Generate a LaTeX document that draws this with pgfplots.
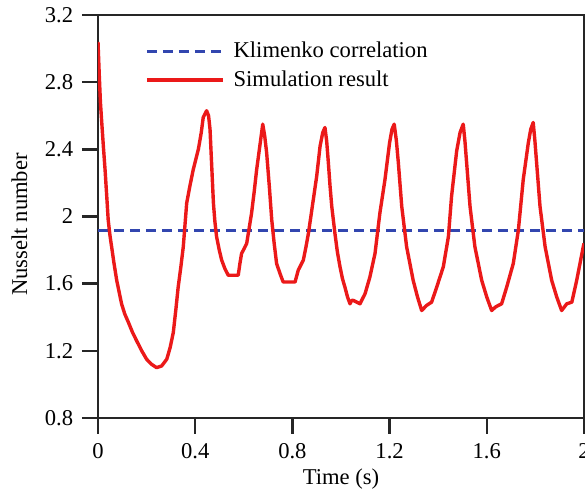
\documentclass[border=0pt]{standalone}
\usepackage{fontspec}
\setmainfont{Liberation Serif}
\usepackage{pgfplots}
\pgfplotsset{compat=1.18}
\definecolor{simred}{RGB}{235,25,25}
\definecolor{klblue}{RGB}{50,70,175}
\begin{document}
\fontsize{11.3}{13.3}\selectfont
\begin{tikzpicture}
\begin{axis}[
  scale only axis,
  width=243pt, height=201.5pt,
  xmin=0, xmax=2, ymin=0.8, ymax=3.2,
  xtick={0,0.4,0.8,1.2,1.6,2},
  ytick={0.8,1.2,1.6,2,2.4,2.8,3.2},
  xticklabels={0,0.4,0.8,1.2,1.6,2},
  yticklabels={0.8,1.2,1.6,2,2.4,2.8,3.2},
  tick align=outside,
  xtick pos=bottom, ytick pos=left,
  major tick length=8pt,
  axis line style={line width=1.2pt, black!85},
  every tick/.style={line width=1.2pt, black!85},
  yticklabel style={xshift=-0.5pt},
  xticklabel style={yshift=-1pt},
  xlabel={Time (s)},
  ylabel={Nusselt number},
  xlabel style={yshift=3pt},
  ylabel style={yshift=1pt, xshift=-4pt},
  legend cell align=left,
  legend style={draw=none, fill=none, at={(rel axis cs:0.084,0.955)}, anchor=north west,
    row sep=1pt, font=\fontsize{11.3}{13.3}\selectfont},
  legend image code/.code={\draw[#1] (0pt,0pt) -- (38pt,0pt); \path (40.5pt,0pt);},
  clip=true,
]
\coordinate (o) at (rel axis cs:0,0);
\addplot[klblue, line width=1.5pt, dash pattern=on 5pt off 3pt] coordinates {(0,1.914) (2,1.914)};
\addlegendentry{Klimenko correlation}
\addplot[simred, line width=1.7pt, line join=round] coordinates {
(0.000,3.04) (0.005,2.85) (0.010,2.68) (0.015,2.57) (0.022,2.42) (0.029,2.28)
(0.036,2.12) (0.042,1.98) (0.049,1.89) (0.056,1.82) (0.066,1.72) (0.077,1.62)
(0.087,1.55) (0.097,1.48) (0.110,1.42) (0.125,1.37) (0.142,1.31) (0.159,1.26)
(0.180,1.20) (0.200,1.15) (0.220,1.12) (0.241,1.10) (0.262,1.11) (0.283,1.15)
(0.297,1.22) (0.310,1.31) (0.320,1.44) (0.330,1.58) (0.341,1.70) (0.351,1.82)
(0.358,1.95) (0.365,2.08) (0.378,2.18) (0.392,2.28) (0.413,2.40) (0.425,2.50)
(0.433,2.59) (0.447,2.63) (0.455,2.60) (0.461,2.52) (0.468,2.30) (0.475,2.08)
(0.481,1.97) (0.488,1.88) (0.499,1.80) (0.509,1.74) (0.522,1.69) (0.536,1.65)
(0.556,1.65) (0.577,1.65) (0.584,1.72) (0.591,1.78) (0.602,1.81) (0.612,1.84)
(0.622,1.93) (0.632,2.02) (0.643,2.15) (0.653,2.28) (0.666,2.42) (0.678,2.55)
(0.686,2.48) (0.694,2.38) (0.705,2.18) (0.715,1.98) (0.725,1.84) (0.735,1.72)
(0.749,1.66) (0.762,1.61) (0.776,1.61) (0.793,1.61) (0.811,1.61) (0.824,1.68)
(0.845,1.74) (0.856,1.82) (0.866,1.90) (0.886,2.10) (0.900,2.24) (0.914,2.42)
(0.925,2.50) (0.934,2.53) (0.941,2.45) (0.948,2.32) (0.955,2.18) (0.962,2.06)
(0.975,1.90) (0.985,1.79) (0.996,1.70) (1.006,1.63) (1.016,1.58) (1.027,1.52)
(1.037,1.48) (1.044,1.50) (1.051,1.50) (1.065,1.49) (1.078,1.48) (1.099,1.54)
(1.119,1.64) (1.140,1.78) (1.150,1.90) (1.160,2.02) (1.181,2.22) (1.200,2.44)
(1.210,2.52) (1.219,2.55) (1.228,2.45) (1.236,2.32) (1.250,2.06) (1.270,1.82)
(1.297,1.62) (1.315,1.52) (1.332,1.44) (1.352,1.47) (1.373,1.49) (1.394,1.58)
(1.421,1.70) (1.442,1.88) (1.455,2.12) (1.476,2.39) (1.490,2.50) (1.503,2.55)
(1.510,2.45) (1.517,2.32) (1.531,2.06) (1.551,1.82) (1.579,1.62) (1.600,1.52)
(1.620,1.44) (1.635,1.46) (1.647,1.47) (1.661,1.48) (1.682,1.58) (1.709,1.72)
(1.730,1.92) (1.750,2.22) (1.771,2.44) (1.781,2.52) (1.791,2.56) (1.798,2.45)
(1.805,2.32) (1.819,2.06) (1.840,1.82) (1.867,1.62) (1.888,1.52) (1.908,1.44)
(1.929,1.48) (1.950,1.49) (1.970,1.62) (1.997,1.82) (2.000,1.84)
};
\addlegendentry{Simulation result}
\end{axis}
\pgfresetboundingbox
\path[use as bounding box] ([shift={(-49pt,-36.5pt)}]o) rectangle ([shift={(243.5pt,209pt)}]o);
\end{tikzpicture}
\end{document}
